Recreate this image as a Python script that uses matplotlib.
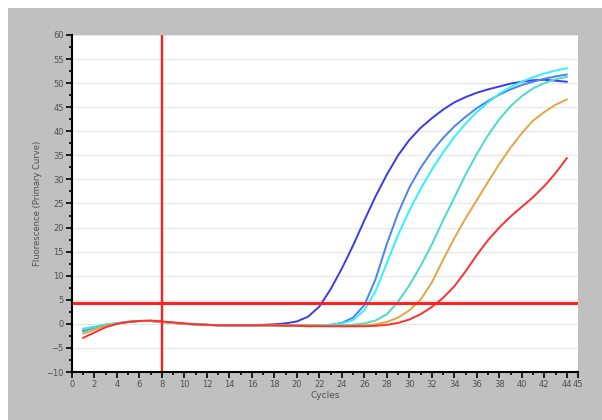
import matplotlib.pyplot as plt
import matplotlib.patches as patches
from matplotlib.ticker import MultipleLocator

# amplification curves, one value per cycle
cycles = list(range(1, 45))

dark_blue = [-1.3, -0.7, -0.2, 0.1, 0.4, 0.6, 0.6, 0.4, 0.2, 0.0,
             -0.1, -0.2, -0.3, -0.3, -0.3, -0.3, -0.2, -0.1, 0.1, 0.5,
             1.5, 3.6, 7.2, 11.5, 16.3, 21.5, 26.5, 31.0, 35.0, 38.2,
             40.7, 42.7, 44.5, 46.0, 47.1, 48.0, 48.7, 49.3, 49.9, 50.3,
             50.6, 50.7, 50.5, 50.3]
medium_blue = [-1.5, -0.8, -0.2, 0.1, 0.4, 0.6, 0.6, 0.4, 0.2, 0.0,
               -0.1, -0.2, -0.3, -0.3, -0.3, -0.3, -0.3, -0.3, -0.3, -0.3,
               -0.3, -0.3, -0.2, 0.2, 1.3, 3.9, 9.3, 16.6, 23.0, 28.3,
               32.4, 35.8, 38.6, 41.0, 43.0, 44.8, 46.3, 47.6, 48.7, 49.6,
               50.3, 50.9, 51.4, 51.8]
cyan = [-1.0, -0.6, -0.1, 0.1, 0.4, 0.6, 0.6, 0.4, 0.2, 0.0,
        -0.1, -0.2, -0.3, -0.3, -0.3, -0.3, -0.3, -0.3, -0.3, -0.3,
        -0.3, -0.3, -0.2, 0.1, 0.8, 2.8, 6.8, 12.6, 18.5, 23.5,
        28.0, 32.0, 35.6, 38.8, 41.6, 44.0, 46.0, 47.8, 49.2, 50.3,
        51.2, 52.0, 52.6, 53.1]
turquoise = [-1.2, -0.7, -0.2, 0.1, 0.4, 0.6, 0.6, 0.4, 0.2, 0.0,
             -0.1, -0.2, -0.3, -0.3, -0.3, -0.3, -0.3, -0.3, -0.3, -0.3,
             -0.3, -0.3, -0.3, -0.3, -0.2, 0.1, 0.7, 2.0, 4.6, 8.0,
             12.0, 16.5, 21.5, 26.2, 31.0, 35.3, 39.2, 42.5, 45.2, 47.3,
             48.9, 50.0, 50.8, 51.3]
orange = [-2.0, -1.2, -0.4, 0.0, 0.4, 0.6, 0.6, 0.4, 0.2, 0.0,
          -0.1, -0.2, -0.3, -0.3, -0.3, -0.3, -0.3, -0.3, -0.3, -0.3,
          -0.3, -0.4, -0.4, -0.4, -0.4, -0.3, -0.1, 0.4, 1.3, 2.8,
          5.0, 8.6, 13.3, 17.8, 21.9, 25.7, 29.5, 33.2, 36.6, 39.6,
          42.2, 44.0, 45.5, 46.6]
red = [-2.9, -1.8, -0.7, 0.0, 0.4, 0.6, 0.7, 0.5, 0.3, 0.1,
       -0.1, -0.2, -0.3, -0.3, -0.3, -0.3, -0.3, -0.3, -0.4, -0.4,
       -0.5, -0.5, -0.5, -0.5, -0.5, -0.5, -0.4, -0.2, 0.2, 0.9,
       2.0, 3.5, 5.4, 7.8, 10.9, 14.3, 17.4, 20.0, 22.3, 24.3,
       26.3, 28.6, 31.3, 34.4]

threshold = 4.3
marker_cycle = 8

series = [dark_blue, medium_blue, cyan, turquoise, orange, red]
colors = ['#3a3aee', '#4a80fa', '#30f2ff', '#48dcc8', '#e2a640', '#ff3030']

x_ticks = list(range(0, 45, 2)) + [45]

fig = plt.figure(figsize=(6.02, 4.2), dpi=100)
fig.patch.set_facecolor('white')
# grey panel behind the plot
fig.patches.append(patches.Rectangle((8 / 602, 0), 1, 1 - 8 / 420,
                                     transform=fig.transFigure,
                                     facecolor='#c0c0c0', edgecolor='none',
                                     zorder=-1))

ax = fig.add_axes([72 / 602, 1 - 372 / 420, 506 / 602, 337 / 420])
ax.set_facecolor('white')

for vals, col in zip(series, colors):
    ax.plot(cycles, vals, color=col, lw=1.4)

ax.axhline(threshold, color='#ff2020', lw=2.2)
ax.axvline(marker_cycle, color='#ff2020', lw=1.7)

ax.set_xlim(0, 45)
ax.set_ylim(-10, 60)
ax.set_xticks(x_ticks)
ax.xaxis.set_minor_locator(MultipleLocator(1))
ax.set_yticks(range(-10, 61, 5))
ax.yaxis.set_minor_locator(MultipleLocator(2.5))

ax.grid(axis='y', which='major', color='#e6e6e6', lw=0.8)
ax.set_axisbelow(True)

for s in ['top', 'right']:
    ax.spines[s].set_visible(False)
for s in ['left', 'bottom']:
    ax.spines[s].set_linewidth(1.5)

ax.tick_params(which='major', length=4, width=1.2, labelsize=6,
               labelcolor='#505050', pad=2)
ax.tick_params(which='minor', length=2.5, width=1.2)

ax.set_xlabel('Cycles', fontsize=6.5, color='#505050', labelpad=1)
ax.set_ylabel('Fluorescence (Primary Curve)', fontsize=6, color='#505050',
              labelpad=3)

fig.savefig('out.png', dpi=100)
